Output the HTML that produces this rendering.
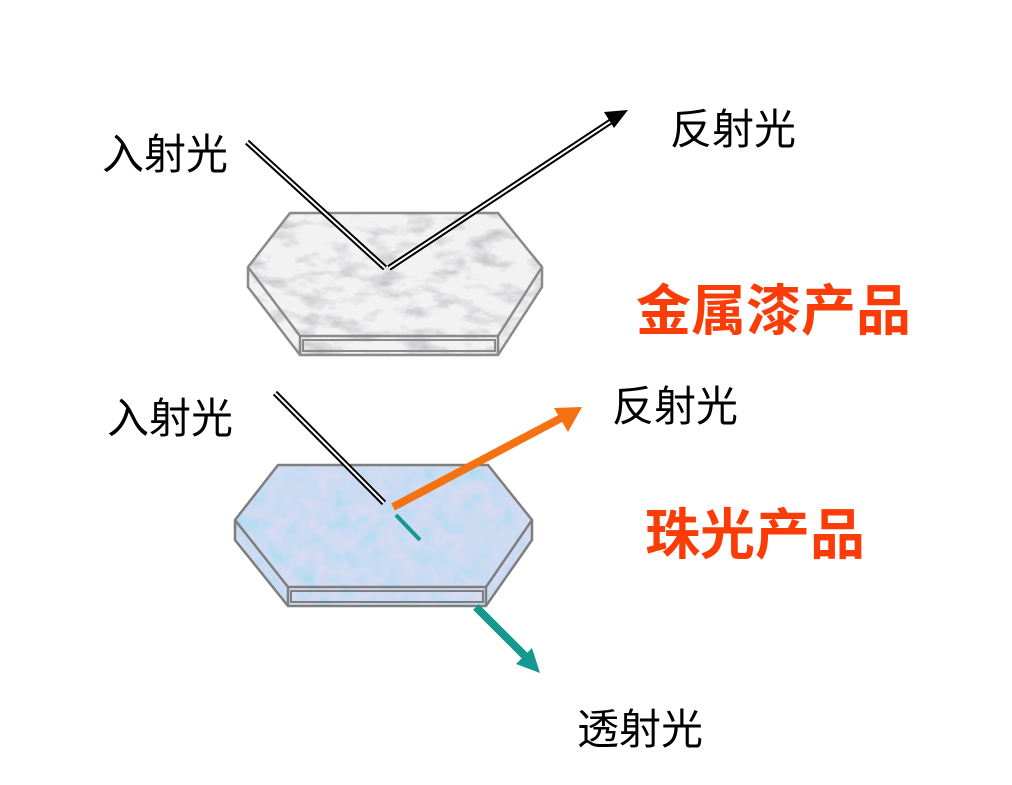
<!DOCTYPE html>
<html><head><meta charset="utf-8"><style>
body{margin:0;background:#fff;width:1012px;height:785px;overflow:hidden;position:relative}
.t{position:absolute;font-family:"Liberation Sans","Noto Sans CJK SC",sans-serif;white-space:nowrap;line-height:1}
.n{font-size:42px;color:#000}
.r{font-size:55px;color:#fa3c08;font-weight:bold}
svg{position:absolute;left:0;top:0}
</style></head><body>
<svg width="1012" height="785">
<defs>
<filter id="m" x="0" y="0" width="1" height="1"><feTurbulence type="fractalNoise" baseFrequency="0.03 0.07" numOctaves="4" seed="3"/><feColorMatrix type="matrix" values="0 0 0 0 0.55  0 0 0 0 0.55  0 0 0 0 0.57  -2.6 0 0 0 1.4"/></filter>
<filter id="p" x="0" y="0" width="1" height="1"><feTurbulence type="fractalNoise" baseFrequency="0.06" numOctaves="3" seed="7"/><feColorMatrix type="matrix" values="1.4 0 0 0 0.0  0 0 0 0 0.8  0 0 0 0 0.9  0 0 0 0 0.3"/></filter>
<clipPath id="c1"><polygon points="290,213 498,213 542,267 542,287 498,355 300,355 248,287 248,267"/></clipPath>
<clipPath id="c2"><polygon points="278,465 488,465 532,520 532,540 486,606 288,606 235,540 235,520"/></clipPath>
</defs>
<g clip-path="url(#c1)"><rect x="240" y="205" width="310" height="160" fill="#f2f2f3"/><rect x="240" y="205" width="310" height="160" filter="url(#m)"/></g>
<g fill="none" stroke="#8a8a8a" stroke-width="2.5">
<polygon points="290,213 498,213 542,267 542,287 498,355 300,355 248,287 248,267"/>
<polyline points="248,267 300,336 498,336 542,267"/>
<line x1="300" y1="336" x2="300" y2="355"/><line x1="498" y1="336" x2="498" y2="355"/>
<rect x="303" y="340" width="192" height="11" stroke-width="2"/>
</g>
<g clip-path="url(#c2)"><rect x="230" y="460" width="310" height="150" fill="#c4d6f2"/><rect x="230" y="460" width="310" height="150" filter="url(#p)"/></g>
<g fill="none" stroke="#7e7e7e" stroke-width="2.5">
<polygon points="278,465 488,465 532,520 532,540 486,606 288,606 235,540 235,520"/>
<polyline points="235,520 288,587 486,587 532,520"/>
<line x1="288" y1="587" x2="288" y2="606"/><line x1="486" y1="587" x2="486" y2="606"/>
<rect x="291" y="591" width="192" height="11" stroke-width="2"/>
</g>
<g stroke="#000" stroke-width="6" fill="none"><line x1="247" y1="142" x2="385" y2="268"/><line x1="389" y1="268" x2="616" y2="118"/></g>
<g stroke="#fff" stroke-width="2" fill="none"><line x1="247" y1="142" x2="385" y2="268"/><line x1="389" y1="268" x2="616" y2="118"/></g>
<polygon points="628,110 604,112 614,128" fill="#000"/>
<g stroke="#000" stroke-width="6"><line x1="275" y1="393" x2="384" y2="503"/></g>
<g stroke="#fff" stroke-width="2"><line x1="275" y1="393" x2="384" y2="503"/></g>
<line x1="393" y1="507" x2="565" y2="416" stroke="#f57212" stroke-width="8"/>
<polygon points="582,407 554,408 568,432" fill="#f57212"/>
<line x1="396" y1="515" x2="420" y2="540" stroke="#16978f" stroke-width="4"/>
<line x1="476" y1="607" x2="528" y2="659" stroke="#16978f" stroke-width="8"/>
<polygon points="540,673 516,664 532,648" fill="#16978f"/>
</svg>
<div class="t n" style="left:102px;top:134px">入射光</div>
<div class="t n" style="left:670px;top:109px">反射光</div>
<div class="t r" style="left:636px;top:284px">金属漆产品</div>
<div class="t n" style="left:107px;top:398px">入射光</div>
<div class="t n" style="left:612px;top:386px">反射光</div>
<div class="t r" style="left:645px;top:508px">珠光产品</div>
<div class="t n" style="left:577px;top:709px">透射光</div>
</body></html>
